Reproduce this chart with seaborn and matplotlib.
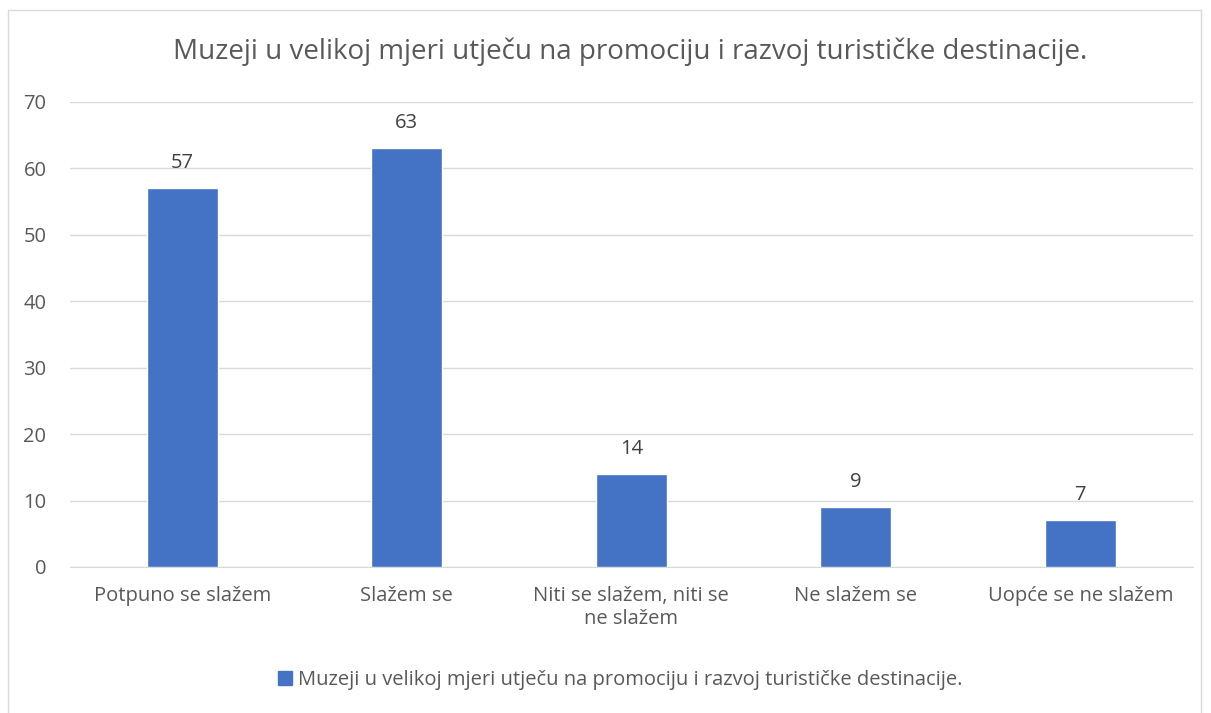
import matplotlib
matplotlib.use("Agg")
import matplotlib.pyplot as plt
import matplotlib.patches as mpatches
import seaborn as sns
import pandas as pd

# survey answers
categories = ["Potpuno se slažem", "Slažem se", "Niti se slažem, niti se\nne slažem",
              "Ne slažem se", "Uopće se ne slažem"]
counts = [57, 63, 14, 9, 7]
series_name = "Muzeji u velikoj mjeri utječu na promociju i razvoj turističke destinacije."

df = pd.DataFrame({"Odgovor": categories, "Broj": counts})

sns.set_style("white")
plt.rcParams["font.family"] = ["Open Sans", "DejaVu Sans"]
text_col = "#595959"
bar_col = "#4472C4"

fig = plt.figure(figsize=(12.11, 7.13), dpi=100)
ax = fig.add_axes([0.0578, 0.2048, 0.927, 0.6522])

sns.barplot(data=df, x="Odgovor", y="Broj", color=bar_col, width=0.315,
            saturation=1, ax=ax, zorder=3)

ax.set_ylim(0, 70)
ax.set_xlim(-0.5, len(categories) - 0.5)
ax.set_yticks(range(0, 71, 10))
ax.yaxis.grid(True, color="#D9D9D9", linewidth=1, zorder=0)
ax.set_axisbelow(True)
for s in ["top", "right", "left"]:
    ax.spines[s].set_visible(False)
ax.spines["bottom"].set_color("#D9D9D9")
ax.tick_params(axis="both", length=0, labelsize=14.5, colors=text_col)
ax.tick_params(axis="x", pad=14)
ax.tick_params(axis="y", pad=17)
for lbl in ax.get_xticklabels():
    lbl.set_linespacing(1.2)
ax.set_xlabel("")
ax.set_ylabel("")

for c in ax.containers:
    ax.bar_label(c, padding=11, fontsize=14.5, color="#404040")

fig.text(0.52, 0.928, series_name, ha="center", va="center", fontsize=20, color=text_col)

handle = mpatches.Patch(color=bar_col, label=series_name)
fig.legend(handles=[handle], loc="center", bbox_to_anchor=(0.512, 0.046), frameon=False,
           fontsize=14.5, labelcolor=text_col, handlelength=0.7, handleheight=0.7,
           handletextpad=0.3)

# outer chart border
fig.add_artist(mpatches.Rectangle((0.0066, -0.01), 0.985, 0.996, transform=fig.transFigure,
                                  fill=False, edgecolor="#D9D9D9", linewidth=1))

fig.savefig("out.png", dpi=100)
